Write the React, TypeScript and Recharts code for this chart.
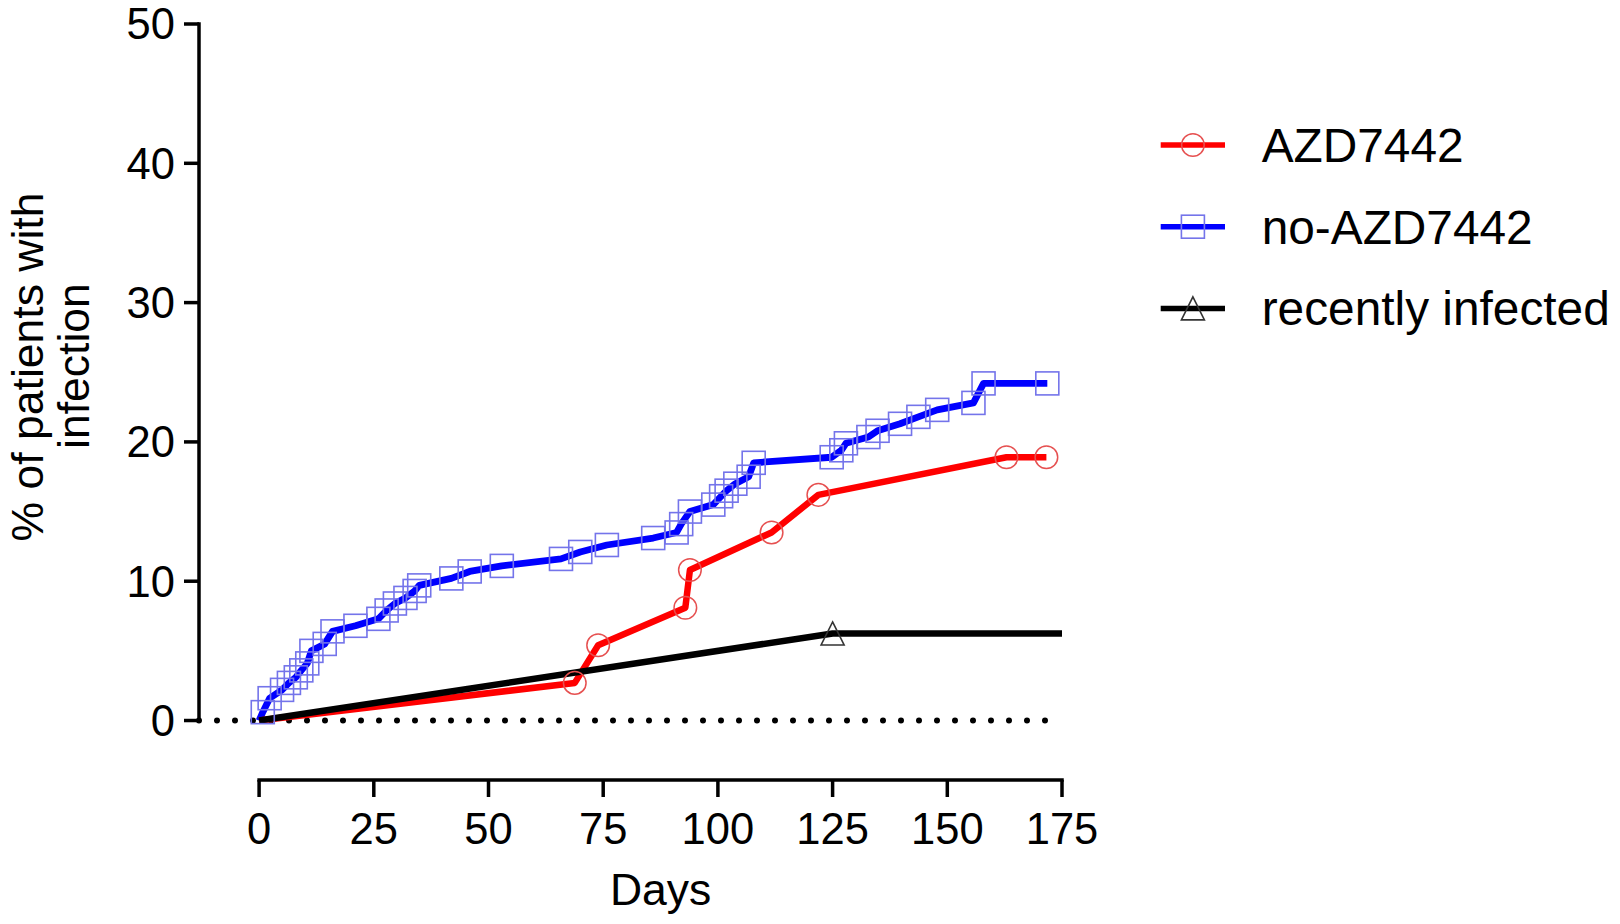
import React from "react";
import { LineChart, Line, XAxis, YAxis, ReferenceLine, Legend } from "recharts";

// ---------- data ----------
const blueDays = [0, 0.8, 2.3, 5, 6.5, 8, 9.2, 10.5, 11.4, 14.3, 16, 21, 26, 27.8, 29.6, 31.9, 33.9, 34.9, 41.9, 45.9, 52.9, 65.8, 70, 75.8, 85.9, 91, 92, 93.9, 99, 100.7, 101.9, 103.8, 106.7, 107.8, 124.8, 126.9, 127.9, 132.8, 134.8, 139.7, 143.7, 147.8, 155.7, 157.9, 171.8];
const blueValues = [0, 0.6, 1.6, 2.2, 2.7, 3.1, 3.6, 4.1, 5.0, 5.5, 6.4, 6.8, 7.3, 7.9, 8.4, 8.8, 9.3, 9.7, 10.2, 10.7, 11.1, 11.6, 12.1, 12.6, 13.1, 13.5, 14.1, 15.0, 15.5, 16.1, 16.5, 17.0, 17.5, 18.5, 18.9, 19.4, 19.9, 20.35, 20.8, 21.3, 21.8, 22.3, 22.8, 24.2, 24.2];
const blueNoMarker = [0];

const redDays = [0, 68.8, 73.9, 92.9, 93.9, 111.7, 121.9, 162.9, 171.6];
const redValues = [0, 2.7, 5.4, 8.1, 10.8, 13.5, 16.2, 18.9, 18.9];
const redNoMarker = [0];

const blackDays = [0, 125, 175];
const blackValues = [0, 6.25, 6.25];
const blackNoMarker = [0, 2];

const xTicks = [0, 25, 50, 75, 100, 125, 150, 175];
const yTicks = [0, 10, 20, 30, 40, 50];

const seriesNames = ["AZD7442", "no-AZD7442", "recently infected"];

const X_MIN = -13.1;
const X_MAX = 175;
const Y_MIN = -4.27;
const Y_MAX = 50;

const zip = (d: number[], v: number[]) => d.map((day, i) => ({ day, value: v[i] }));
const blueData = zip(blueDays, blueValues);
const redData = zip(redDays, redValues);
const blackData = zip(blackDays, blackValues);

const FONT = "'Liberation Sans', Arial, Helvetica, sans-serif";
const BLUE = "#0000ff";
const RED = "#ff0000";
const BLACK = "#000000";
const BLUE_MK = "#7474ea";
const RED_MK = "#e65050";
const BLACK_MK = "#333333";

const Square = ({ cx, cy }: { cx: number; cy: number }) => (
  <rect x={cx - 11.5} y={cy - 11.5} width={23} height={23} fill="none" stroke={BLUE_MK} strokeWidth={1.6} />
);
const Circle = ({ cx, cy }: { cx: number; cy: number }) => (
  <circle cx={cx} cy={cy} r={11.3} fill="none" stroke={RED_MK} strokeWidth={1.5} />
);
const Triangle = ({ cx, cy }: { cx: number; cy: number }) => (
  <polygon
    points={`${cx},${cy - 11.5} ${cx + 11.5},${cy + 11.5} ${cx - 11.5},${cy + 11.5}`}
    fill="none"
    stroke={BLACK_MK}
    strokeWidth={1.6}
  />
);

const makeDot = (Shape: any, skip: number[]) => (props: any) => {
  const { cx, cy, index } = props;
  if (skip.includes(index) || cx == null || cy == null) return <g key={`s-${index}`} />;
  return (
    <g key={`m-${index}`}>
      <Shape cx={cx} cy={cy} />
    </g>
  );
};

const LegendContent = () => {
  const rows = [
    { name: seriesNames[0], color: RED, Shape: Circle },
    { name: seriesNames[1], color: BLUE, Shape: Square },
    { name: seriesNames[2], color: BLACK, Shape: Triangle },
  ];
  return (
    <svg width={480} height={260} style={{ overflow: "visible" }}>
      {rows.map((r, i) => {
        const y = 45 + i * 81.7;
        return (
          <g key={r.name}>
            <line x1={20.7} x2={85} y1={y} y2={y} stroke={r.color} strokeWidth={5.5} />
            <r.Shape cx={52.9} cy={y} />
            <text x={121.7} y={y + 17} fontSize={47.8} fontFamily={FONT} fill="#000">
              {r.name}
            </text>
          </g>
        );
      })}
    </svg>
  );
};

const YLabel = () => (
  <g>
    <text
      x={43}
      y={367}
      transform="rotate(-90 43 367)"
      textAnchor="middle"
      fontSize={44.5}
      fontFamily={FONT}
      fill="#000"
    >
      % of patients with
    </text>
    <text
      x={89}
      y={366}
      transform="rotate(-90 89 366)"
      textAnchor="middle"
      fontSize={44.5}
      fontFamily={FONT}
      fill="#000"
    >
      infection
    </text>
  </g>
);

const XLabel = () => (
  <text x={660.6} y={905} textAnchor="middle" fontSize={44.5} fontFamily={FONT} fill="#000">
    Days
  </text>
);

export default function App() {
  const tickStyle = { fill: "#000", fontSize: 43.5, fontFamily: FONT };
  const tickLine = { stroke: "#000", strokeWidth: 3.5 };
  return (
    <div style={{ position: "absolute", left: 0, top: 0, width: 1620, height: 924, background: "#fff" }}>
      <LineChart width={1620} height={924} margin={{ top: 24, right: 558, bottom: 0, left: 0 }}>
        <XAxis
          type="number"
          dataKey="day"
          domain={[X_MIN, X_MAX]}
          ticks={xTicks}
          allowDataOverflow
          axisLine={false}
          tickLine={tickLine}
          tickSize={17}
          tickMargin={16}
          height={144}
          tick={tickStyle}
          interval={0}
          label={<XLabel />}
        />
        <YAxis
          type="number"
          dataKey="value"
          domain={[Y_MIN, Y_MAX]}
          ticks={yTicks}
          allowDataOverflow
          axisLine={false}
          tickLine={tickLine}
          tickSize={15}
          tickMargin={9}
          width={199}
          tick={tickStyle}
          interval={0}
          label={<YLabel />}
        />
        <ReferenceLine y={0} stroke="#000" strokeWidth={6} strokeDasharray="0 18" strokeLinecap="round" ifOverflow="visible" />
        <ReferenceLine
          segment={[{ x: X_MIN, y: 0 }, { x: X_MIN, y: Y_MAX }]}
          stroke="#000"
          strokeWidth={3.5}
          strokeLinecap="square"
          ifOverflow="visible"
        />
        <ReferenceLine
          segment={[{ x: 0, y: Y_MIN }, { x: X_MAX, y: Y_MIN }]}
          stroke="#000"
          strokeWidth={3.5}
          strokeLinecap="square"
          ifOverflow="visible"
        />

        <Line data={blueData} dataKey="value" type="linear" stroke="none" dot={makeDot(Square, blueNoMarker)} activeDot={false} isAnimationActive={false} name="blue-markers" />
        <Line data={blueData} dataKey="value" type="linear" stroke={BLUE} strokeWidth={6.8} strokeLinejoin="round" dot={false} activeDot={false} isAnimationActive={false} name={seriesNames[1]} />

        <Line data={redData} dataKey="value" type="linear" stroke="none" dot={makeDot(Circle, redNoMarker)} activeDot={false} isAnimationActive={false} name="red-markers" />
        <Line data={redData} dataKey="value" type="linear" stroke={RED} strokeWidth={6.5} strokeLinejoin="round" dot={false} activeDot={false} isAnimationActive={false} name={seriesNames[0]} />

        <Line data={blackData} dataKey="value" type="linear" stroke="none" dot={makeDot(Triangle, blackNoMarker)} activeDot={false} isAnimationActive={false} name="black-markers" />
        <Line data={blackData} dataKey="value" type="linear" stroke={BLACK} strokeWidth={6.5} strokeLinejoin="round" dot={false} activeDot={false} isAnimationActive={false} name={seriesNames[2]} />

        <Legend
          content={<LegendContent />}
          layout="horizontal"
          verticalAlign="middle"
          align="center"
          wrapperStyle={{ left: 1140, top: 100, width: 480, height: 260 }}
        />
      </LineChart>
    </div>
  );
}
